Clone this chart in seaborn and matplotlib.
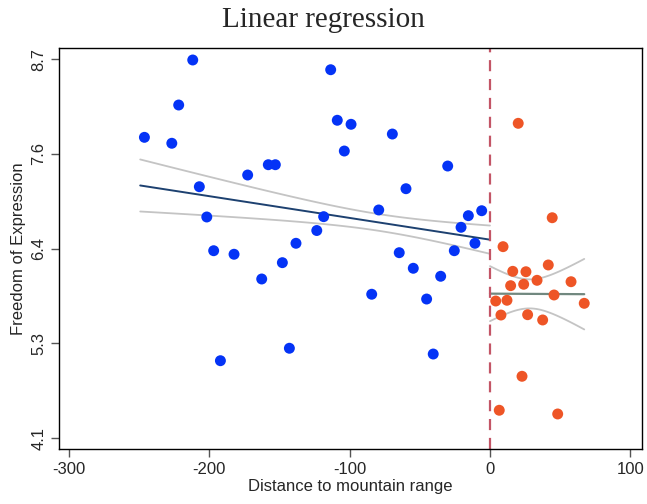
import numpy as np
import pandas as pd
import matplotlib
matplotlib.use("Agg")
import matplotlib.pyplot as plt
import seaborn as sns

# ---- data ----
left_x = [-246.0, -226.5, -211.6, -221.6, -206.9, -201.6, -196.7, -191.9, -182.2,
          -172.5, -162.5, -157.8, -152.8, -147.8, -142.8, -138.1, -123.3, -118.4,
          -113.4, -108.7, -103.7, -98.9, -84.2, -79.2, -69.5, -64.6, -59.8, -54.6,
          -45.1, -40.4, -35.1, -30.1, -25.4, -20.6, -15.4, -10.7, -5.9]
left_y = [7.750, 7.678, 8.688, 8.142, 7.151, 6.784, 6.375, 5.041, 6.332,
          7.293, 6.032, 7.418, 7.418, 6.230, 5.192, 6.465, 6.620, 6.788,
          8.570, 7.957, 7.584, 7.908, 5.847, 6.869, 7.790, 6.351, 7.127, 6.162,
          5.789, 5.122, 6.065, 7.402, 6.375, 6.659, 6.800, 6.465, 6.860]
right_x = [20.1, 44.3, 9.3, 16.2, 25.6, 41.5, 14.7, 24.0, 33.5, 57.7,
           45.6, 4.1, 12.1, 67.1, 7.8, 26.8, 37.5, 22.8, 6.6, 48.2]
right_y = [7.920, 6.775, 6.424, 6.125, 6.120, 6.202, 5.951, 5.968, 6.016, 5.999,
           5.838, 5.765, 5.774, 5.737, 5.595, 5.599, 5.535, 4.852, 4.440, 4.395]

x_ticks = [-300, -200, -100, 0, 100]
y_tick_labels = ["4.1", "5.3", "6.4", "7.6", "8.7"]
y_ticks = list(np.linspace(4.1, 8.7, 5))

sns.set_theme(style="white")
plt.rcParams["font.family"] = ["Liberation Sans", "DejaVu Sans"]

fig = plt.figure(figsize=(6.47, 5.04), dpi=100)
ax = fig.add_axes([0.0912, 0.1091, 0.9918 - 0.0912, 0.9042 - 0.1091])

BLUE = "#0433f6"
ORANGE = "#ee5526"
CI_COL = "#c4c4c4"


def fit_band(x, y, x0, x1, h):
    x = np.asarray(x, float)
    y = np.asarray(y, float)
    w = np.clip(1 - np.abs(x) / h, 0, None)  # triangular kernel around the cutoff
    X = np.column_stack([np.ones_like(x), x])
    W = np.diag(w)
    XtWX_inv = np.linalg.inv(X.T @ W @ X)
    beta = XtWX_inv @ X.T @ W @ y
    resid = y - X @ beta
    s2 = np.sum(w * resid ** 2) / (np.sum(w) - 2) * (np.sum(w) / len(x))
    cov = s2 * XtWX_inv * (np.sum(w) / len(x))
    xs = np.linspace(x0, x1, 100)
    Xs = np.column_stack([np.ones_like(xs), xs])
    yh = Xs @ beta
    se = np.sqrt(np.einsum("ij,jk,ik->i", Xs, cov, Xs))
    return xs, yh, yh - se, yh + se


# left fit
xs, yh, lo, hi = fit_band(left_x, left_y, -249, 0, 250)
ax.plot(xs, lo, color=CI_COL, lw=1.3, zorder=1)
ax.plot(xs, hi, color=CI_COL, lw=1.3, zorder=1)
ax.plot(xs, yh, color="#1d4170", lw=1.4, zorder=2)

# right fit
xs, yh, lo, hi = fit_band(right_x, right_y, 0, max(right_x), 1e9)
ax.plot(xs, lo, color=CI_COL, lw=1.3, zorder=1)
ax.plot(xs, hi, color=CI_COL, lw=1.3, zorder=1)
ax.plot(xs, yh, color="#71887f", lw=1.6, zorder=2)

df_l = pd.DataFrame({"x": left_x, "y": left_y})
df_r = pd.DataFrame({"x": right_x, "y": right_y})
sns.scatterplot(data=df_l, x="x", y="y", ax=ax, color=BLUE, s=62, edgecolor="none", zorder=3)
sns.scatterplot(data=df_r, x="x", y="y", ax=ax, color=ORANGE, s=62, edgecolor="none", zorder=3)

ax.axvline(0, color="#c35566", lw=1.6, ls=(0, (5, 3.5)), zorder=2)

ax.set_xlim(-306.8, 108.0)
ax.set_ylim(3.97, 8.83)
ax.set_xticks(x_ticks)
ax.set_xticklabels([str(v) for v in x_ticks], fontsize=12)
ax.set_yticks(y_ticks)
ax.set_yticklabels(y_tick_labels, fontsize=12, rotation=90, va="center")

for sp in ax.spines.values():
    sp.set_visible(True)
    sp.set_color("black")
    sp.set_linewidth(1.0)

ax.tick_params(axis="both", which="both", direction="out", length=6, width=1,
               color="#555555", bottom=True, left=True, top=False, right=False, pad=3)

ax.set_xlabel("Distance to mountain range", fontsize=12, labelpad=2)
ax.set_ylabel("Freedom of Expression", fontsize=12, labelpad=4)
fig.suptitle("Linear regression", fontsize=21, y=0.987,
             family=["Liberation Serif", "DejaVu Serif"])

fig.savefig("out.png", dpi=100)
